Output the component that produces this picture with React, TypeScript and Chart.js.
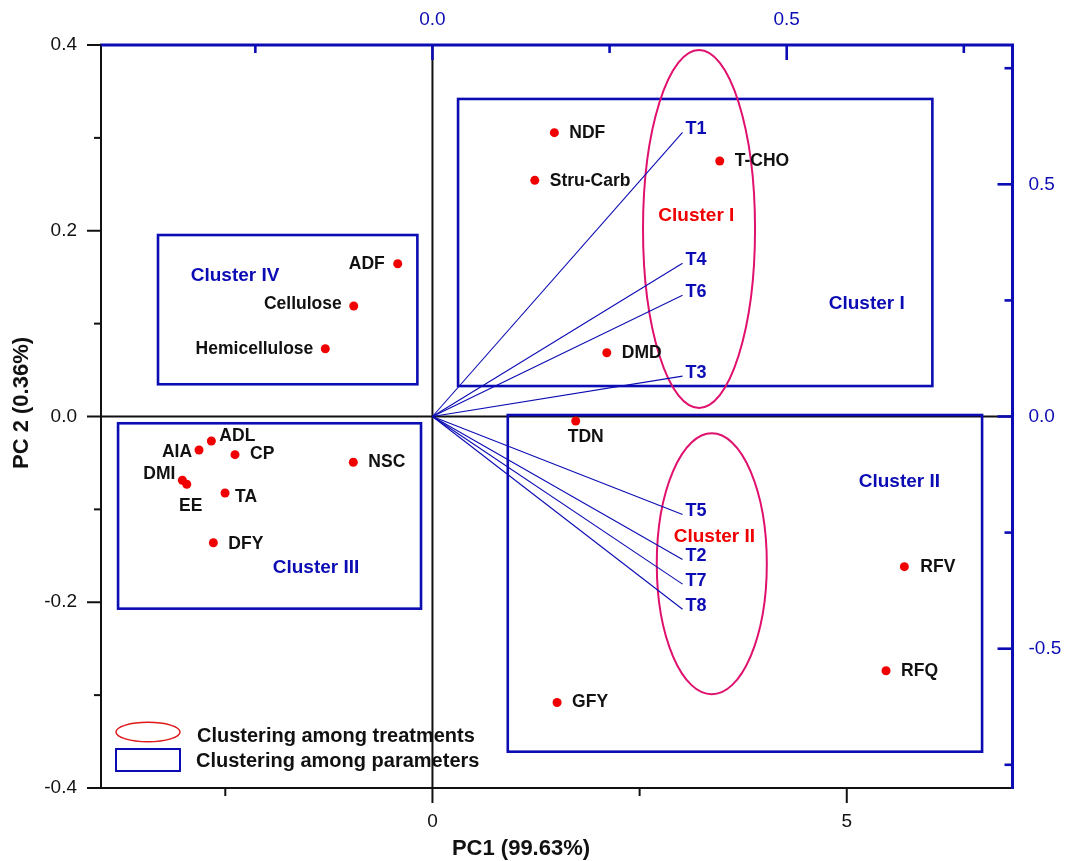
import { useEffect, useRef } from 'react';
import { Chart, registerables } from 'chart.js';

Chart.register(...registerables);

const FONT = '"Liberation Sans", Arial, Helvetica, sans-serif';
const BLUE = '#0c0cb4';
const RED = '#f00000';
const PINK = '#e0106e';
const INK = '#111111';

// Parameter scores on PC1 / PC2
const PARAM_NAMES = ['NDF', 'Stru-Carb', 'T-CHO', 'DMD', 'TDN', 'GFY', 'RFV', 'RFQ', 'ADF', 'Cellulose', 'Hemicellulose', 'ADL', 'AIA', 'CP', 'NSC', 'DMI', 'EE', 'TA', 'DFY'];
const PARAM_PC1 = [1.471, 1.235, 3.467, 2.104, 1.729, 1.504, 5.695, 5.474, -0.419, -0.95, -1.293, -2.668, -2.817, -2.383, -0.955, -3.018, -2.965, -2.503, -2.644];
const PARAM_PC2 = [0.3056, 0.2543, 0.2751, 0.0687, -0.0048, -0.308, -0.1617, -0.2737, 0.1645, 0.119, 0.073, -0.0264, -0.0361, -0.0411, -0.0493, -0.0687, -0.073, -0.0824, -0.1359];
// label placement next to each dot: [dx, dy, align]
const PARAM_LABEL_PLACE: [number, number, CanvasTextAlign][] = [
  [15, 0, 'left'], [15, 1, 'left'], [15, 0, 'left'], [15, 0, 'left'], [10, 16, 'center'], [15, 0, 'left'],
  [16, 0, 'left'], [15, 0, 'left'], [-13, 0, 'right'], [-12, -2, 'right'], [-12, 0, 'right'], [8, -5, 'left'],
  [-7, 2, 'right'], [15, 0, 'left'], [15, 0, 'left'], [-7, -6, 'right'], [4, 22, 'center'], [10, 4, 'left'], [15, 1, 'left'],
];

// Treatment loadings on the secondary axes
const TREAT_NAMES = ['T1', 'T4', 'T6', 'T3', 'T5', 'T2', 'T7', 'T8'];
const TREAT_L1 = [0.353, 0.353, 0.353, 0.353, 0.353, 0.353, 0.353, 0.353];
const TREAT_L2 = [0.612, 0.33, 0.261, 0.087, -0.211, -0.308, -0.361, -0.415];

// Axis ranges and ticks
const PC1_RANGE = [-4, 7];
const PC2_RANGE = [-0.4, 0.4];
const LOAD1_RANGE = [-4 / 8.55, 7 / 8.55];
const LOAD2_RANGE = [-0.8, 0.8];
const PC1_TICKS = [0, 5];
const PC1_MINOR = [-2.5, 2.5];
const PC2_TICKS = [-0.4, -0.2, 0, 0.2, 0.4];
const PC2_MINOR = [-0.3, -0.1, 0.1, 0.3];
const LOAD1_TICKS = [0, 0.5];
const LOAD1_MINOR = [-0.25, 0.25, 0.75];
const LOAD2_TICKS = [-0.5, 0, 0.5];
const LOAD2_MINOR = [-0.75, -0.25, 0.25, 0.75];

// Parameter clusters (rectangles, in PC units)
const BOX_NAMES = ['Cluster I', 'Cluster II', 'Cluster III', 'Cluster IV'];
const BOX_X0 = [0.309, 0.909, -3.794, -3.312];
const BOX_X1 = [6.033, 6.633, -0.138, -0.182];
const BOX_Y0 = [0.0328, -0.3609, -0.2069, 0.0347];
const BOX_Y1 = [0.3419, 0.0016, -0.0073, 0.1954];
const BOX_LABEL_X = [5.241, 5.635, -1.405, -2.382];
const BOX_LABEL_Y = [0.1219, -0.0702, -0.1631, 0.1513];

// Treatment clusters (ellipses, in PC units)
const ELLIPSE_NAMES = ['Cluster I', 'Cluster II'];
const ELLIPSE_CX = [3.217, 3.371];
const ELLIPSE_CY = [0.2019, -0.1586];
const ELLIPSE_RX = [0.676, 0.664];
const ELLIPSE_RY = [0.1927, 0.1405];
const ELLIPSE_LABEL_X = [3.185, 3.402];
const ELLIPSE_LABEL_Y = [0.2159, -0.1294];

const LEGEND_TEXT = ['Clustering among treatments', 'Clustering among parameters'];
const X_TITLE = 'PC1 (99.63%)';
const Y_TITLE = 'PC 2 (0.36%)';

const fixedTicks = (values: number[]) => (scale: any) => {
  scale.ticks = values.map((v) => ({ value: v }));
};

const biplotPlugin = {
  id: 'biplotDecor',
  beforeDatasetsDraw(chart: any) {
    const { ctx, chartArea: ca, scales } = chart;
    const { x, y } = scales;
    ctx.save();
    // zero lines
    ctx.strokeStyle = INK;
    ctx.lineWidth = 2;
    ctx.beginPath();
    ctx.moveTo(x.getPixelForValue(0), ca.top);
    ctx.lineTo(x.getPixelForValue(0), ca.bottom);
    ctx.moveTo(ca.left, y.getPixelForValue(0));
    ctx.lineTo(ca.right, y.getPixelForValue(0));
    ctx.stroke();

    // parameter cluster boxes
    ctx.strokeStyle = BLUE;
    ctx.lineWidth = 2.6;
    BOX_NAMES.forEach((_, i) => {
      const x0 = x.getPixelForValue(BOX_X0[i]);
      const x1 = x.getPixelForValue(BOX_X1[i]);
      const y0 = y.getPixelForValue(BOX_Y0[i]);
      const y1 = y.getPixelForValue(BOX_Y1[i]);
      ctx.strokeRect(x0, y1, x1 - x0, y0 - y1);
    });
    ctx.fillStyle = BLUE;
    ctx.font = `bold 19px ${FONT}`;
    ctx.textAlign = 'center';
    ctx.textBaseline = 'middle';
    BOX_NAMES.forEach((name, i) => {
      ctx.fillText(name, x.getPixelForValue(BOX_LABEL_X[i]), y.getPixelForValue(BOX_LABEL_Y[i]));
    });

    // treatment cluster ellipses
    ctx.strokeStyle = PINK;
    ctx.lineWidth = 2;
    ELLIPSE_NAMES.forEach((_, i) => {
      const cx = x.getPixelForValue(ELLIPSE_CX[i]);
      const cy = y.getPixelForValue(ELLIPSE_CY[i]);
      const rx = Math.abs(x.getPixelForValue(ELLIPSE_CX[i] + ELLIPSE_RX[i]) - cx);
      const ry = Math.abs(y.getPixelForValue(ELLIPSE_CY[i] + ELLIPSE_RY[i]) - cy);
      ctx.beginPath();
      ctx.ellipse(cx, cy, rx, ry, 0, 0, Math.PI * 2);
      ctx.stroke();
    });
    ctx.fillStyle = RED;
    ELLIPSE_NAMES.forEach((name, i) => {
      ctx.fillText(name, x.getPixelForValue(ELLIPSE_LABEL_X[i]), y.getPixelForValue(ELLIPSE_LABEL_Y[i]));
    });
    ctx.restore();
  },
  afterDatasetsDraw(chart: any) {
    const { ctx, chartArea: ca, scales } = chart;
    const { x, y, x2, y2 } = scales;
    ctx.save();

    // parameter labels
    ctx.fillStyle = INK;
    ctx.font = `bold 17.5px ${FONT}`;
    ctx.textBaseline = 'middle';
    PARAM_NAMES.forEach((name, i) => {
      const [dx, dy, align] = PARAM_LABEL_PLACE[i];
      ctx.textAlign = align;
      ctx.fillText(name, x.getPixelForValue(PARAM_PC1[i]) + dx, y.getPixelForValue(PARAM_PC2[i]) + dy);
    });

    // treatment labels
    ctx.fillStyle = BLUE;
    ctx.font = `bold 18px ${FONT}`;
    ctx.textAlign = 'left';
    TREAT_NAMES.forEach((name, i) => {
      ctx.fillText(name, x2.getPixelForValue(TREAT_L1[i]) + 3, y2.getPixelForValue(TREAT_L2[i]) - 3);
    });

    // frame: black left/bottom, blue top/right
    ctx.lineWidth = 2;
    ctx.strokeStyle = INK;
    ctx.beginPath();
    ctx.moveTo(ca.left, ca.top);
    ctx.lineTo(ca.left, ca.bottom);
    ctx.lineTo(ca.right, ca.bottom);
    ctx.stroke();
    ctx.lineWidth = 3;
    ctx.strokeStyle = BLUE;
    ctx.beginPath();
    ctx.moveTo(ca.left - 1, ca.top);
    ctx.lineTo(ca.right, ca.top);
    ctx.lineTo(ca.right, ca.bottom + 1);
    ctx.stroke();

    // tick marks
    const tick = (pos: number, across: number, len: number, horiz: boolean) => {
      ctx.beginPath();
      if (horiz) {
        ctx.moveTo(pos, across);
        ctx.lineTo(pos, across + len);
      } else {
        ctx.moveTo(across, pos);
        ctx.lineTo(across + len, pos);
      }
      ctx.stroke();
    };
    ctx.strokeStyle = INK;
    ctx.lineWidth = 2;
    PC2_TICKS.forEach((v) => tick(y.getPixelForValue(v), ca.left, -14, false));
    PC2_MINOR.forEach((v) => tick(y.getPixelForValue(v), ca.left, -7, false));
    PC1_TICKS.forEach((v) => tick(x.getPixelForValue(v), ca.bottom, 15, true));
    PC1_MINOR.forEach((v) => tick(x.getPixelForValue(v), ca.bottom, 8, true));
    ctx.strokeStyle = BLUE;
    ctx.lineWidth = 2.6;
    LOAD1_TICKS.forEach((v) => tick(x2.getPixelForValue(v), ca.top, 15, true));
    LOAD1_MINOR.forEach((v) => tick(x2.getPixelForValue(v), ca.top, 8, true));
    LOAD2_TICKS.forEach((v) => tick(y2.getPixelForValue(v), ca.right, -15, false));
    LOAD2_MINOR.forEach((v) => tick(y2.getPixelForValue(v), ca.right, -8, false));

    // legend
    const lx = ca.left + 15;
    const ly = ca.bottom - 56;
    ctx.strokeStyle = '#e01818';
    ctx.lineWidth = 1.5;
    ctx.beginPath();
    ctx.ellipse(lx + 32, ly, 32, 9.7, 0, 0, Math.PI * 2);
    ctx.stroke();
    ctx.strokeStyle = BLUE;
    ctx.lineWidth = 2;
    ctx.strokeRect(lx, ly + 17, 64, 22);
    ctx.fillStyle = INK;
    ctx.font = `bold 20px ${FONT}`;
    ctx.textAlign = 'left';
    ctx.textBaseline = 'middle';
    ctx.fillText(LEGEND_TEXT[0], lx + 81, ly + 4);
    ctx.fillText(LEGEND_TEXT[1], lx + 80, ly + 29);

    // axis titles
    ctx.font = `bold 22px ${FONT}`;
    ctx.textAlign = 'center';
    ctx.fillText(X_TITLE, 521, ca.bottom + 61);
    ctx.translate(22, 403);
    ctx.rotate(-Math.PI / 2);
    ctx.fillText(Y_TITLE, 0, 0);
    ctx.restore();
  },
};

export default function App() {
  const ref = useRef<HTMLCanvasElement | null>(null);

  useEffect(() => {
    if (!ref.current) return;
    const tickFont = { family: FONT, size: 19 };
    const chart = new Chart(ref.current, {
      type: 'scatter',
      data: {
        datasets: [
          ...TREAT_NAMES.map((name, i) => ({
            label: name,
            type: 'line' as const,
            data: [
              { x: 0, y: 0 },
              { x: TREAT_L1[i], y: TREAT_L2[i] },
            ],
            xAxisID: 'x2',
            yAxisID: 'y2',
            borderColor: BLUE,
            borderWidth: 1.1,
            pointRadius: 0,
            showLine: true,
            fill: false,
          })),
          {
            label: 'Parameters',
            data: PARAM_PC1.map((v, i) => ({ x: v, y: PARAM_PC2[i] })),
            xAxisID: 'x',
            yAxisID: 'y',
            backgroundColor: RED,
            borderWidth: 0,
            pointRadius: 4.5,
          },
        ],
      },
      options: {
        animation: false,
        responsive: false,
        devicePixelRatio: 1,
        layout: { padding: 0 },
        plugins: { legend: { display: false }, tooltip: { enabled: false } },
        scales: {
          x: {
            type: 'linear',
            position: 'bottom',
            min: PC1_RANGE[0],
            max: PC1_RANGE[1],
            afterBuildTicks: fixedTicks(PC1_TICKS),
            afterFit: (s: any) => { s.height = 73; },
            grid: { display: false, drawTicks: false },
            border: { display: false },
            ticks: { font: tickFont, color: INK, padding: 22, maxRotation: 0, autoSkip: false, callback: (v: any) => String(v) },
          },
          y: {
            type: 'linear',
            position: 'left',
            min: PC2_RANGE[0],
            max: PC2_RANGE[1],
            afterBuildTicks: fixedTicks(PC2_TICKS),
            afterFit: (s: any) => { s.width = 101; },
            grid: { display: false, drawTicks: false },
            border: { display: false },
            ticks: { font: tickFont, color: INK, padding: 24, autoSkip: false, callback: (v: any) => Number(v).toFixed(1) },
          },
          x2: {
            type: 'linear',
            position: 'top',
            min: LOAD1_RANGE[0],
            max: LOAD1_RANGE[1],
            afterBuildTicks: fixedTicks(LOAD1_TICKS),
            afterFit: (s: any) => { s.height = 45; },
            grid: { display: false, drawTicks: false },
            border: { display: false },
            ticks: { font: tickFont, color: BLUE, padding: 14, maxRotation: 0, autoSkip: false, callback: (v: any) => Number(v).toFixed(1) },
          },
          y2: {
            type: 'linear',
            position: 'right',
            min: LOAD2_RANGE[0],
            max: LOAD2_RANGE[1],
            afterBuildTicks: fixedTicks(LOAD2_TICKS),
            afterFit: (s: any) => { s.width = 55.5; },
            grid: { display: false, drawTicks: false },
            border: { display: false },
            ticks: { font: tickFont, color: BLUE, padding: 16, autoSkip: false, callback: (v: any) => Number(v).toFixed(1) },
          },
        },
      },
      plugins: [biplotPlugin],
    });
    return () => chart.destroy();
  }, []);

  return (
    <div style={{ position: 'fixed', left: 0, top: 0, width: 1068, height: 861, background: '#fff' }}>
      <canvas ref={ref} width={1068} height={861} style={{ display: 'block' }} />
    </div>
  );
}
